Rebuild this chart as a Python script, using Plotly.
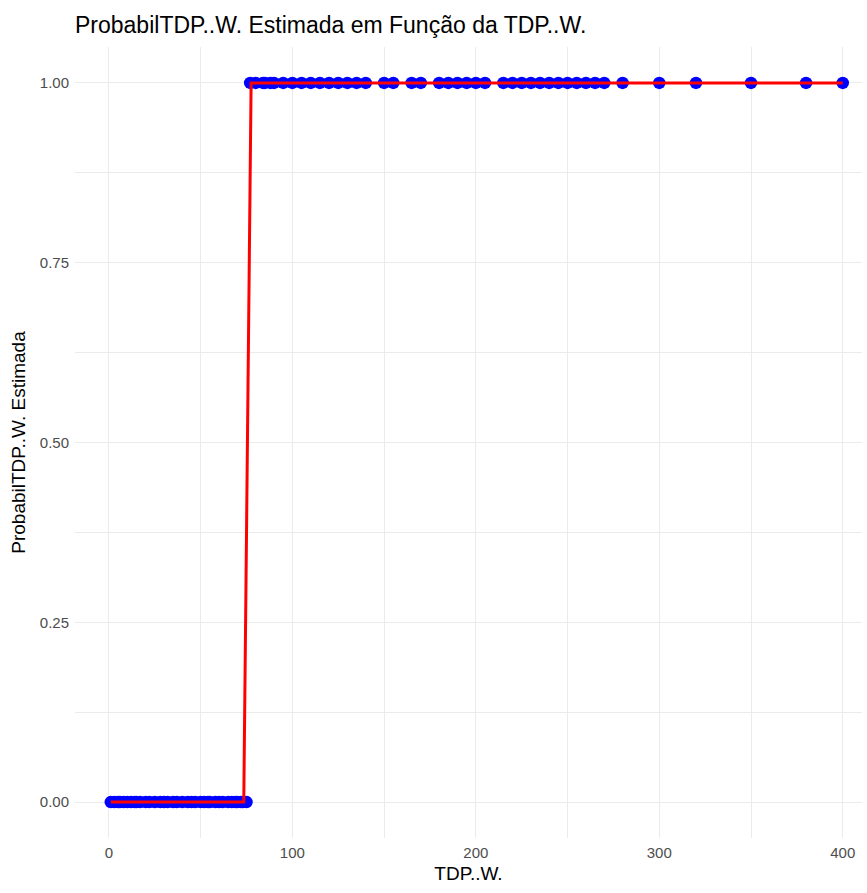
import plotly.graph_objects as go

# Observed points (TDP in W, estimated probability)
tdp_low = [1, 3, 5, 6, 8, 10, 12, 14, 15, 17, 20, 22, 25, 28, 30, 32, 35, 37, 40,
           43, 45, 47, 50, 52, 54, 55, 58, 60, 62, 65, 67, 69, 70, 72, 73, 75]
prob_low = [0.0] * len(tdp_low)
tdp_high = [77, 80, 84, 85, 88, 90, 95, 100, 105, 110, 115, 120, 125, 130, 135,
            140, 150, 155, 165, 170, 180, 185, 190, 195, 200, 205, 215, 220,
            225, 230, 235, 240, 245, 250, 255, 260, 265, 270, 280, 300, 320,
            350, 380, 400]
prob_high = [1.0] * len(tdp_high)

# Fitted curve (prediction grid)
curve_tdp = [1, 73.5, 77.5, 400]
curve_prob = [0.0, 0.0, 1.0, 1.0]

x_ticks = [0, 100, 200, 300, 400]
y_ticks = [0.0, 0.25, 0.5, 0.75, 1.0]
y_tick_text = ["0.00", "0.25", "0.50", "0.75", "1.00"]

FONT = "Liberation Sans, Arial, sans-serif"
GRID = "#EBEBEB"

fig = go.Figure()
fig.add_trace(go.Scatter(
    x=tdp_low + tdp_high, y=prob_low + prob_high, mode="markers",
    marker=dict(color="#0000FF", size=12.5, line=dict(width=0)),
    showlegend=False, hoverinfo="x+y"))
fig.add_trace(go.Scatter(
    x=curve_tdp, y=curve_prob, mode="lines",
    line=dict(color="#FF0000", width=3),
    showlegend=False))

fig.update_layout(
    width=867, height=893,
    margin=dict(l=75, r=5, t=47, b=55),
    paper_bgcolor="white", plot_bgcolor="white",
    font=dict(family=FONT, color="#000000"),
    title=dict(text="ProbabilTDP..W. Estimada em Função da TDP..W.",
               x=75 / 867, xanchor="left", y=1 - 25 / 893, yanchor="middle",
               font=dict(size=23, color="#000000", family=FONT)),
)
fig.update_xaxes(
    range=[-18.5, 410.5], tickvals=x_ticks, showline=False, zeroline=False,
    showgrid=True, gridcolor=GRID, gridwidth=1.2, automargin=False,
    minor=dict(dtick=50, tick0=0, showgrid=True, gridcolor=GRID, gridwidth=0.6),
    tickfont=dict(size=15, color="#4D4D4D", family=FONT), ticks="", ticklen=0,
    ticklabelstandoff=4,
    title=dict(text="TDP..W.", font=dict(size=19, color="#000000", family=FONT), standoff=6),
)
fig.update_yaxes(
    range=[-0.05, 1.05], tickvals=y_ticks, ticktext=y_tick_text,
    showline=False, zeroline=False, automargin=False,
    showgrid=True, gridcolor=GRID, gridwidth=1.2,
    minor=dict(dtick=0.125, tick0=0, showgrid=True, gridcolor=GRID, gridwidth=0.6),
    tickfont=dict(size=15, color="#4D4D4D", family=FONT), ticks="", ticklen=0,
    ticklabelstandoff=5,
    title=dict(text="ProbabilTDP..W. Estimada",
               font=dict(size=19, color="#000000", family=FONT), standoff=9),
)

fig.write_html("out.html")
